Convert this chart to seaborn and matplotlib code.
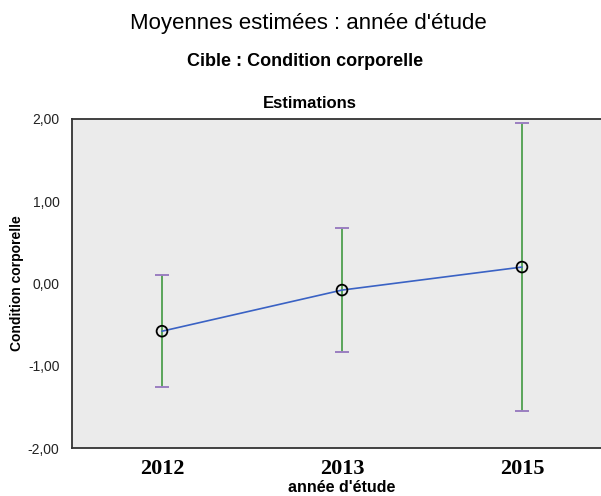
import matplotlib
matplotlib.use("Agg")
import matplotlib.pyplot as plt
import pandas as pd
import seaborn as sns

# estimated means and 95% CI
years = ["2012", "2013", "2015"]
means = [-0.58, -0.08, 0.20]
lower = [-1.26, -0.83, -1.55]
upper = [0.10, 0.68, 1.95]

df = pd.DataFrame({"annee": years, "moyenne": means, "bas": lower, "haut": upper})

sns.set_style("white")
plt.rcParams["font.family"] = ["Liberation Sans", "DejaVu Sans"]
plt.rcParams["text.color"] = "black"

fig = plt.figure(figsize=(6.01, 4.96), dpi=100)
# axes extends past the right edge like the original export
ax = fig.add_axes([72 / 601, 1 - 448 / 496, 540 / 601, (448 - 119) / 496])
ax.set_facecolor("#ebebeb")

# error bars: green stems, purple caps
for i, row in df.iterrows():
    ax.vlines(i, row["bas"], row["haut"], color="#5aa55a", lw=1.4, zorder=2)
    ax.hlines([row["bas"], row["haut"]], i - 0.04, i + 0.04, color="#9a7fc0", lw=1.4, zorder=2)

sns.pointplot(data=df, x="annee", y="moyenne", errorbar=None, color="#3a62c4",
              linewidth=1.2, markers="", ax=ax, zorder=3)
ax.scatter(range(len(years)), means, s=60, facecolors="none", edgecolors="black",
           linewidths=1.3, zorder=4)

ax.set_xlim(-0.5, 2.5)
ax.set_ylim(-2, 2)
ax.set_yticks([-2, -1, 0, 1, 2])
ax.set_yticklabels(["-2,00", "-1,00", "0,00", "1,00", "2,00"], fontsize=10, color="#222222")
ax.set_xticks(range(len(years)))
ax.set_xticklabels(years, fontsize=16, fontweight="bold", family="Liberation Serif", color="black")
ax.tick_params(axis="both", direction="out", length=5, width=1, color="#333333", pad=3)
ax.tick_params(axis="y", length=7, pad=2)

for s in ["left", "bottom", "top"]:
    ax.spines[s].set_color("#333333")
    ax.spines[s].set_linewidth(1.3)
ax.spines["right"].set_visible(False)

ax.set_xlabel("année d'étude", fontsize=11.5, fontweight="bold", color="black", va="center")
ax.xaxis.set_label_coords((342 - 72) / 540, (448 - 487) / 329)
ax.set_ylabel("Condition corporelle", fontsize=10, fontweight="bold", color="black", va="center")
ax.yaxis.set_label_coords((17 - 72) / 540, 0.5)

fig.text(308 / 601, 1 - 24 / 496, "Moyennes estimées : année d'étude", ha="center", va="center", fontsize=16)
fig.text(305 / 601, 1 - 62 / 496, "Cible : Condition corporelle", ha="center", va="center",
         fontsize=13, fontweight="bold")
fig.text(310 / 601, 1 - 103 / 496, "Estimations", ha="center", va="center",
         fontsize=12, fontweight="bold")

fig.savefig("out.png", dpi=100)
